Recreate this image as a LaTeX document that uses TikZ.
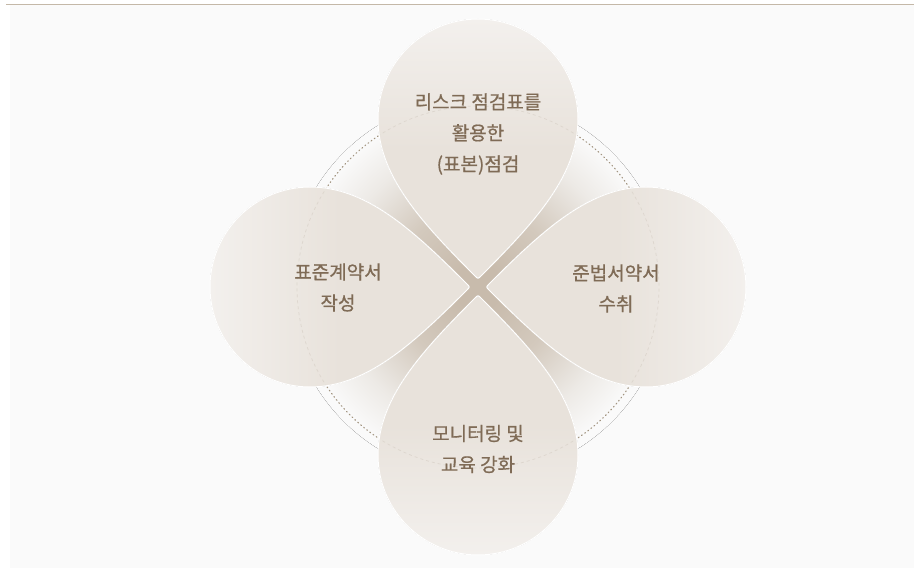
\documentclass[tikz,border=0pt]{standalone}
\usepackage{fontspec}
\newfontfamily\kr{Noto Sans CJK KR}[FakeBold=0.7]
\definecolor{bgc}{HTML}{FAFAFA}
\definecolor{topline}{HTML}{C4B8A8}
\definecolor{petallight}{HTML}{F3F0ED}
\definecolor{petaldark}{HTML}{E8E2DB}
\definecolor{txt}{HTML}{7F6B56}
\definecolor{dotc}{HTML}{A29480}
\definecolor{faint}{HTML}{DDD6CE}
\definecolor{sh0}{HTML}{C8BBAC}
\definecolor{sh1}{HTML}{D3C9BD}
\definecolor{sh2}{HTML}{EDEAE6}
\pgfdeclareradialshading{petalshadow}{\pgfpointorigin}{color(0bp)=(sh0);color(3bp)=(sh0);color(10.5bp)=(sh1);color(18.5bp)=(sh2);color(24bp)=(bgc);color(50bp)=(bgc)}
\newcommand\petalpath{(-11,3) .. controls (-66,58) and (-112,100) .. (-168,100) arc[start angle=90, end angle=270, radius=100] .. controls (-112,-100) and (-66,-58) .. (-11,-3) .. controls (-8,0) .. (-11,3) -- cycle}
\tikzset{
  lbl/.style={text=txt, align=center, font=\kr\fontsize{19}{31}\selectfont},
  petaledge/.style={draw=white, line width=1pt},
  dotring/.style={draw=dotc, line width=1.1pt, dash pattern=on 0.9pt off 3pt, line cap=round},
  faintring/.style={draw=faint, line width=0.7pt, dash pattern=on 3pt off 3pt}
}
\begin{document}
\begin{tikzpicture}[x=1pt,y=1pt]
\useasboundingbox (0,0) rectangle (914,568);
\fill[white] (0,0) rectangle (914,568);
\fill[bgc] (10,0) rectangle (914,563.5);
\draw[topline, line width=1.5pt] (6,563.5) -- (914,563.5);
\coordinate (O) at (478,281);
\fill[shading=petalshadow] (O) circle (190);
\draw[dotring] (O) circle (181);
% left petal
\begin{scope}[shift={(O)}, rotate=0]
  \fill[left color=petallight, right color=petaldark, middle color=petaldark] \petalpath;
  \begin{scope}\clip \petalpath; \draw[faintring] (0,0) circle (181); \end{scope}
  \draw[petaledge] \petalpath;
\end{scope}
% bottom petal
\begin{scope}[shift={(O)}, rotate=90]
  \fill[bottom color=petallight, top color=petaldark, middle color=petaldark] \petalpath;
  \begin{scope}\clip \petalpath; \draw[faintring] (0,0) circle (181); \end{scope}
  \draw[petaledge] \petalpath;
\end{scope}
% right petal
\begin{scope}[shift={(O)}, rotate=180]
  \fill[right color=petallight, left color=petaldark, middle color=petaldark] \petalpath;
  \begin{scope}\clip \petalpath; \draw[faintring] (0,0) circle (181); \end{scope}
  \draw[petaledge] \petalpath;
\end{scope}
% top petal
\begin{scope}[shift={(O)}, rotate=270]
  \fill[top color=petallight, bottom color=petaldark, middle color=petaldark] \petalpath;
  \begin{scope}\clip \petalpath; \draw[faintring] (0,0) circle (181); \end{scope}
  \draw[petaledge] \petalpath;
\end{scope}
\node[lbl] (ttop) at (478,434) {리스크 점검표를\\활용한\\(표본)점검};
\node[lbl] (tleft) at (338,280.5) {표준계약서\\작성};
\node[lbl] (tright) at (616,279.5) {준법서약서\\수취};
\node[lbl] (tbottom) at (478,119) {모니터링 및\\교육 강화};
\end{tikzpicture}
\end{document}
